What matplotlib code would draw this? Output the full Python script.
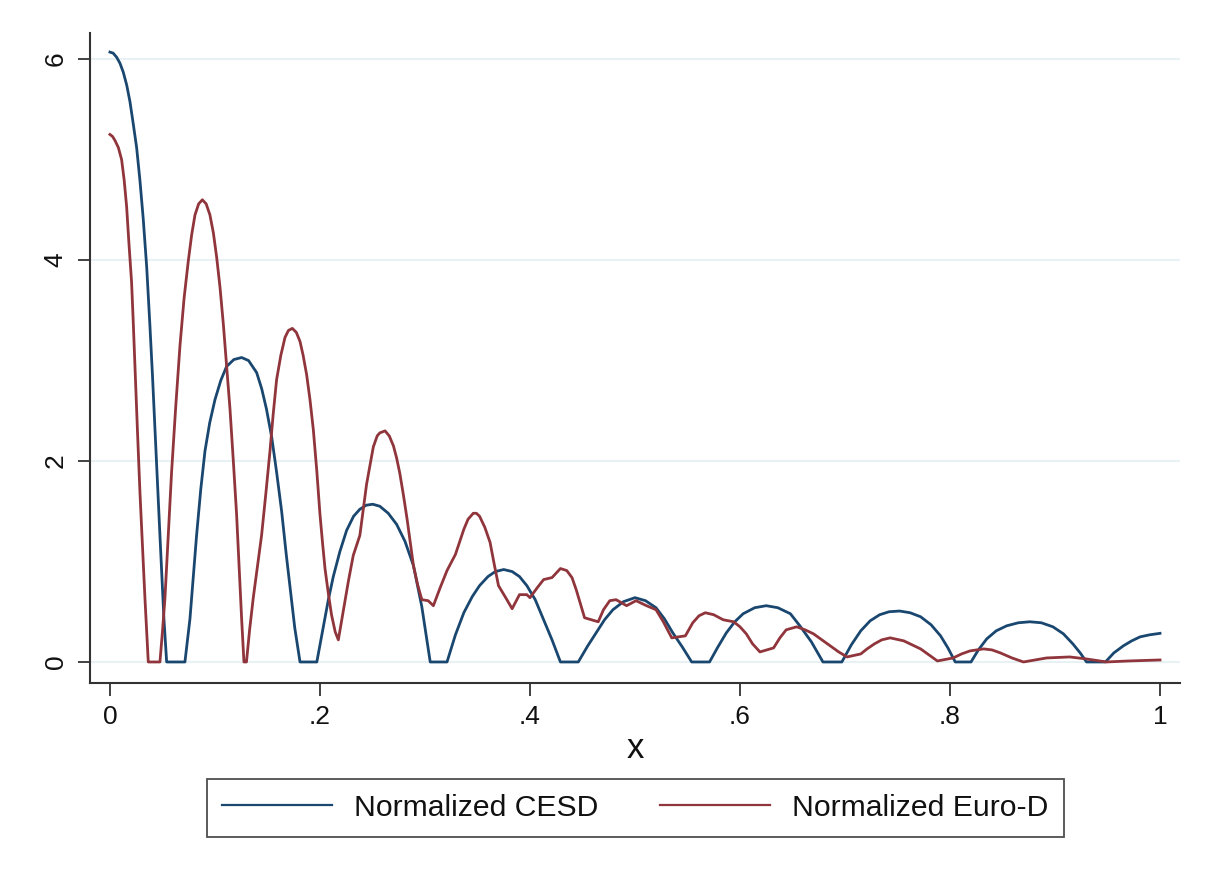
import matplotlib.pyplot as plt

# Normalized CESD (blue)
cesd_x = [0, 0.003, 0.0063, 0.0095, 0.0127, 0.016, 0.019, 0.022, 0.0254, 0.0285, 0.0317, 0.035,
          0.038, 0.0405, 0.0429, 0.0452, 0.0476, 0.0495, 0.0514, 0.054,
          0.0714, 0.0762, 0.0825, 0.0865, 0.0905, 0.095, 0.1, 0.1055, 0.111, 0.118, 0.1254,
          0.132, 0.1397, 0.1445, 0.149, 0.154, 0.1587, 0.1635, 0.168, 0.172, 0.176, 0.181,
          0.197, 0.203, 0.208, 0.2127, 0.219, 0.2254, 0.232, 0.238, 0.244, 0.2502,
          0.257, 0.265, 0.273, 0.281, 0.289, 0.297, 0.305,
          0.321, 0.329, 0.337, 0.345, 0.352, 0.36, 0.367, 0.375, 0.383, 0.39, 0.397,
          0.405, 0.413, 0.421, 0.429,
          0.446, 0.455, 0.463, 0.471, 0.479, 0.489, 0.500, 0.510, 0.520, 0.528, 0.536,
          0.545, 0.554,
          0.571, 0.579, 0.587, 0.595, 0.603, 0.614, 0.625, 0.636, 0.648, 0.657, 0.668, 0.679,
          0.697, 0.706, 0.715, 0.724, 0.733, 0.742, 0.752, 0.762, 0.772, 0.782, 0.791,
          0.798, 0.805,
          0.820, 0.827, 0.835, 0.844, 0.854, 0.865, 0.876, 0.887, 0.898, 0.908, 0.917,
          0.924, 0.930,
          0.948, 0.956, 0.965, 0.973, 0.981, 0.990, 1.0]
cesd_y = [6.07, 6.06, 6.02, 5.96, 5.87, 5.74, 5.58, 5.37, 5.12, 4.80, 4.41, 3.93,
          3.36, 2.85, 2.31, 1.80, 1.26, 0.85, 0.43, 0,
          0, 0.43, 1.26, 1.72, 2.10, 2.38, 2.61, 2.80, 2.94, 3.01, 3.03,
          3.00, 2.88, 2.72, 2.52, 2.24, 1.89, 1.50, 1.06, 0.70, 0.34, 0,
          0, 0.34, 0.62, 0.85, 1.10, 1.31, 1.45, 1.52, 1.56, 1.57,
          1.55, 1.48, 1.37, 1.20, 0.96, 0.55, 0,
          0, 0.27, 0.49, 0.65, 0.76, 0.85, 0.90, 0.92, 0.90, 0.85, 0.76,
          0.62, 0.42, 0.22, 0,
          0, 0.16, 0.29, 0.42, 0.52, 0.60, 0.64, 0.61, 0.54, 0.43, 0.29,
          0.15, 0,
          0, 0.15, 0.29, 0.40, 0.48, 0.54, 0.56, 0.54, 0.48, 0.36, 0.20, 0,
          0, 0.17, 0.31, 0.41, 0.47, 0.50, 0.507, 0.49, 0.45, 0.37, 0.26,
          0.14, 0,
          0, 0.12, 0.23, 0.31, 0.36, 0.39, 0.40, 0.39, 0.35, 0.28, 0.18,
          0.09, 0,
          0, 0.09, 0.16, 0.21, 0.25, 0.27, 0.285]

# Normalized Euro-D (red)
eurod_x = [0, 0.0025, 0.0048, 0.008, 0.0111, 0.0135, 0.0159, 0.018, 0.0206, 0.0222, 0.0238,
           0.0262, 0.0286, 0.031, 0.0333, 0.035, 0.0365,
           0.0476, 0.05, 0.0524, 0.0555, 0.0587, 0.0627, 0.0667, 0.0706, 0.0746, 0.0778,
           0.081, 0.0845, 0.088, 0.0916, 0.0952, 0.0985, 0.1016, 0.1048, 0.108, 0.111,
           0.1143, 0.1175, 0.1206, 0.123, 0.1254, 0.1276,
           0.130, 0.133, 0.1365, 0.1405, 0.1444, 0.1485, 0.1524, 0.1555, 0.1587, 0.1627,
           0.1667, 0.170, 0.1737, 0.1775, 0.181, 0.184, 0.1873, 0.1905, 0.1937, 0.197,
           0.2, 0.2025, 0.2048, 0.208, 0.211, 0.2145, 0.2175, 0.2222, 0.227, 0.2317,
           0.238, 0.2444, 0.2508, 0.2545, 0.257, 0.262, 0.266, 0.270, 0.273, 0.276,
           0.2795, 0.283, 0.286, 0.289, 0.293, 0.297, 0.303, 0.308, 0.3145, 0.321,
           0.329, 0.337, 0.341, 0.346, 0.349, 0.352, 0.357, 0.362, 0.366, 0.370,
           0.378, 0.383, 0.390, 0.397, 0.400, 0.407, 0.413, 0.421, 0.429, 0.435,
           0.440, 0.444, 0.448, 0.452, 0.465, 0.470, 0.476, 0.482, 0.492, 0.501,
           0.511, 0.520, 0.527, 0.535, 0.548, 0.555, 0.561, 0.567, 0.575, 0.584,
           0.594, 0.600, 0.606, 0.612, 0.619, 0.632, 0.638, 0.644, 0.654, 0.662,
           0.670, 0.678, 0.686, 0.694, 0.702, 0.715, 0.721, 0.728, 0.735, 0.743,
           0.756, 0.764, 0.772, 0.780, 0.788, 0.803, 0.811, 0.819, 0.832, 0.840,
           0.848, 0.859, 0.870, 0.892, 0.914, 0.930, 0.949, 0.970, 1.0]
eurod_y = [5.25, 5.23, 5.19, 5.12, 5.00, 4.80, 4.53, 4.18, 3.78, 3.38, 2.94,
           2.30, 1.68, 1.14, 0.64, 0.30, 0,
           0, 0.30, 0.64, 1.25, 1.89, 2.55, 3.15, 3.62, 3.99, 4.25,
           4.45, 4.56, 4.60, 4.56, 4.45, 4.27, 4.03, 3.73, 3.36, 2.96,
           2.52, 2.00, 1.47, 0.95, 0.43, 0,
           0, 0.32, 0.64, 0.95, 1.26, 1.68, 2.10, 2.47, 2.81, 3.05,
           3.23, 3.30, 3.32, 3.28, 3.19, 3.05, 2.86, 2.61, 2.31, 1.90,
           1.47, 1.18, 0.93, 0.68, 0.47, 0.30, 0.22, 0.51, 0.80, 1.06,
           1.26, 1.77, 2.14, 2.25, 2.28, 2.30, 2.25, 2.15, 2.03, 1.88,
           1.66, 1.42, 1.19, 0.96, 0.77, 0.62, 0.61, 0.56, 0.74, 0.91,
           1.07, 1.32, 1.42, 1.48, 1.48, 1.45, 1.34, 1.19, 0.97, 0.76,
           0.62, 0.53, 0.67, 0.67, 0.64, 0.74, 0.82, 0.84, 0.93, 0.91,
           0.84, 0.72, 0.58, 0.44, 0.40, 0.52, 0.61, 0.62, 0.56, 0.61,
           0.56, 0.52, 0.40, 0.24, 0.26, 0.39, 0.46, 0.49, 0.47, 0.42,
           0.40, 0.35, 0.28, 0.18, 0.10, 0.14, 0.24, 0.32, 0.35, 0.32,
           0.28, 0.22, 0.16, 0.10, 0.05, 0.08, 0.13, 0.18, 0.22, 0.24,
           0.21, 0.17, 0.13, 0.07, 0.01, 0.04, 0.08, 0.11, 0.13, 0.12,
           0.09, 0.04, 0.0, 0.04, 0.05, 0.03, 0.0, 0.01, 0.02]

xticks = [0, 0.2, 0.4, 0.6, 0.8, 1.0]
xticklabels = ['0', '.2', '.4', '.6', '.8', '1']
yticks = [0, 2, 4, 6]

plt.rcParams['font.family'] = ['Liberation Sans', 'DejaVu Sans']

fig = plt.figure(figsize=(12.08, 8.8), dpi=100)
ax = fig.add_axes([0.0745, 0.2239, 0.9023, 0.7386])

for y in yticks:
    ax.axhline(y, color='#e8f1f3', lw=1.5, zorder=0)

ax.plot(cesd_x, cesd_y, color='#1a476f', lw=2.0, label='Normalized CESD')
ax.plot(eurod_x, eurod_y, color='#90353b', lw=2.0, label='Normalized Euro-D')

ax.set_xlim(-0.019, 1.019)
ax.set_ylim(-0.209, 6.26)
ax.set_xticks(xticks)
ax.set_xticklabels(xticklabels)
ax.set_yticks(yticks)
ax.set_yticklabels([str(v) for v in yticks], rotation=90, va='center')
ax.tick_params(direction='out', length=9, width=1.3, color='#333333', labelsize=19,
               labelcolor='#111111', pad=7)

for s in ['top', 'right']:
    ax.spines[s].set_visible(False)
for s in ['left', 'bottom']:
    ax.spines[s].set_color('#333333')
    ax.spines[s].set_linewidth(1.5)

ax.set_xlabel('x', fontsize=25, labelpad=2, color='#111111')

leg = fig.legend(loc='center', bbox_to_anchor=(0.526, 0.0818), ncol=2, fontsize=21.7,
                 frameon=True, fancybox=False, handlelength=3.65, handletextpad=0.73,
                 columnspacing=2.06, borderpad=0.5)
leg.get_frame().set_edgecolor('#222222')
leg.get_frame().set_linewidth(1.3)
for line in leg.get_lines():
    line.set_linewidth(1.6)
for t in leg.get_texts():
    t.set_color('#111111')

fig.savefig('out.png', dpi=100)
